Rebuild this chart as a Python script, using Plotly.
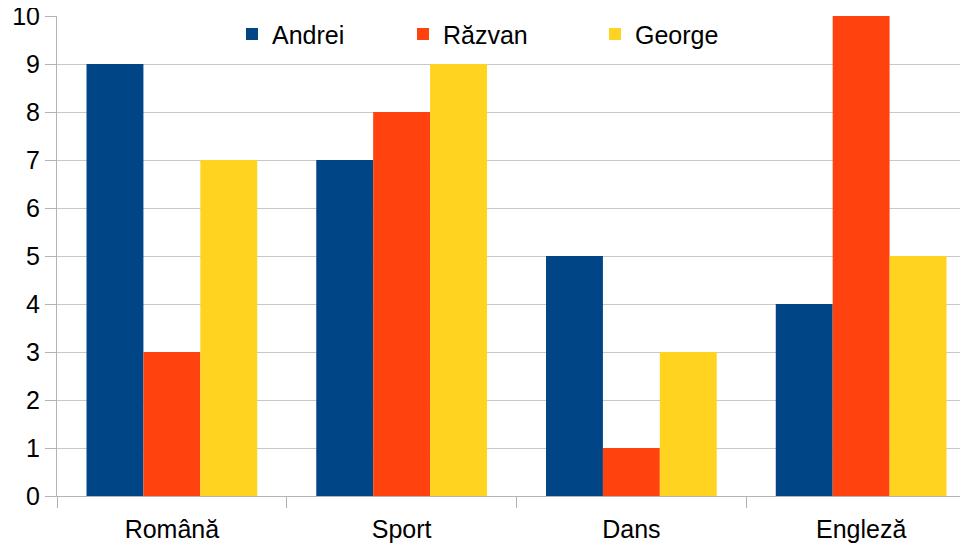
import plotly.graph_objects as go

categories = ["Română", "Sport", "Dans", "Engleză"]
andrei = [9, 7, 5, 4]
razvan = [3, 8, 1, 10]
george = [7, 9, 3, 5]
series_names = ["Andrei", "Răzvan", "George"]
colors = ["#004586", "#ff420e", "#ffd320"]
y_ticks = list(range(0, 11))

legend_ids = ["legend", "legend2", "legend3"]
legend_x = [0.1904, 0.3765, 0.5854]

fig = go.Figure()
for name, vals, col, lid in zip(series_names, [andrei, razvan, george], colors, legend_ids):
    fig.add_trace(go.Bar(x=categories, y=vals, name=name, marker_color=col,
                         marker_line_width=0, legend=lid))

leg_common = dict(orientation="h", xref="paper", yref="paper", xanchor="left",
                  y=1.01, yanchor="top", font=dict(size=25),
                  bgcolor="rgba(0,0,0,0)")
fig.update_layout(
    width=968, height=544,
    margin=dict(l=49, r=0, t=8, b=56, autoexpand=False),
    paper_bgcolor="white", plot_bgcolor="white",
    barmode="group", bargap=0.257, bargroupgap=0,
    font=dict(family="Liberation Sans", size=25, color="#000000"),
    showlegend=True,
    legend=dict(x=legend_x[0], **leg_common),
    legend2=dict(x=legend_x[1], **leg_common),
    legend3=dict(x=legend_x[2], **leg_common),
)
fig.update_xaxes(
    range=[-0.5, 3.5], showgrid=False, showline=True, linecolor="#b3b3b3",
    ticks="outside", tickson="boundaries", ticklen=11, tickcolor="#b3b3b3",
    tickfont=dict(size=25), tickangle=0, fixedrange=True,
    ticklabelstandoff=11,
)
fig.update_yaxes(
    range=[0, 10], tickvals=y_ticks, showgrid=True, gridcolor="#c8c8c8",
    showline=True, linecolor="#b3b3b3", ticks="outside", ticklen=11,
    tickcolor="#b3b3b3", tickfont=dict(size=25), zeroline=False,
    ticklabeloverflow="allow",
)
fig.write_html("out.html")
